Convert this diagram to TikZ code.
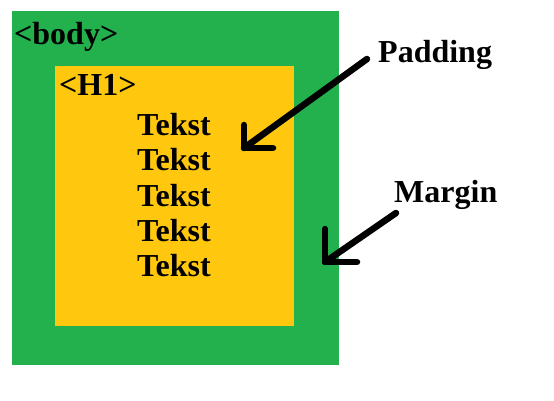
\documentclass[tikz,border=0pt]{standalone}
\usepackage{fontspec}
\setmainfont{Liberation Serif}
\definecolor{paintgreen}{HTML}{22B14C}
\definecolor{paintgold}{HTML}{FFC80E}
\begin{document}
\begin{tikzpicture}[x=1pt,y=-1pt,
  lbl/.style={anchor=base west,inner sep=0pt,font=\fontsize{32}{38}\selectfont\bfseries},
  arr/.style={line width=6.5pt,line cap=round,line join=round}]
\useasboundingbox (0,0) rectangle (554,400);
\fill[paintgreen] (12,11) rectangle (339,365);
\fill[paintgold] (55,66) rectangle (294,326);
\node[lbl] (body) at (14,44) {<body>};
\node[lbl] (h1) at (59,95) {<H1>};
\node[lbl] (t1) at (137,135) {Tekst};
\node[lbl] (t2) at (137,170) {Tekst};
\node[lbl] (t3) at (137,206) {Tekst};
\node[lbl] (t4) at (137,241) {Tekst};
\node[lbl] (t5) at (137,276) {Tekst};
\node[lbl] (pad) at (378,62) {Padding};
\node[lbl] (mar) at (394,202) {Margin};
\coordinate (ps) at (367,59);
\coordinate (pt) at (244,148);
\coordinate (ms) at (396,213);
\coordinate (mt) at (325,262);
\draw[arr] (ps) -- (pt);
\draw[arr] ([yshift=23pt]pt) -- (pt) -- ([xshift=29pt]pt);
\draw[arr] (ms) -- (mt);
\draw[arr] ([yshift=33pt]mt) -- (mt) -- ([xshift=32pt]mt);
\end{tikzpicture}
\end{document}
